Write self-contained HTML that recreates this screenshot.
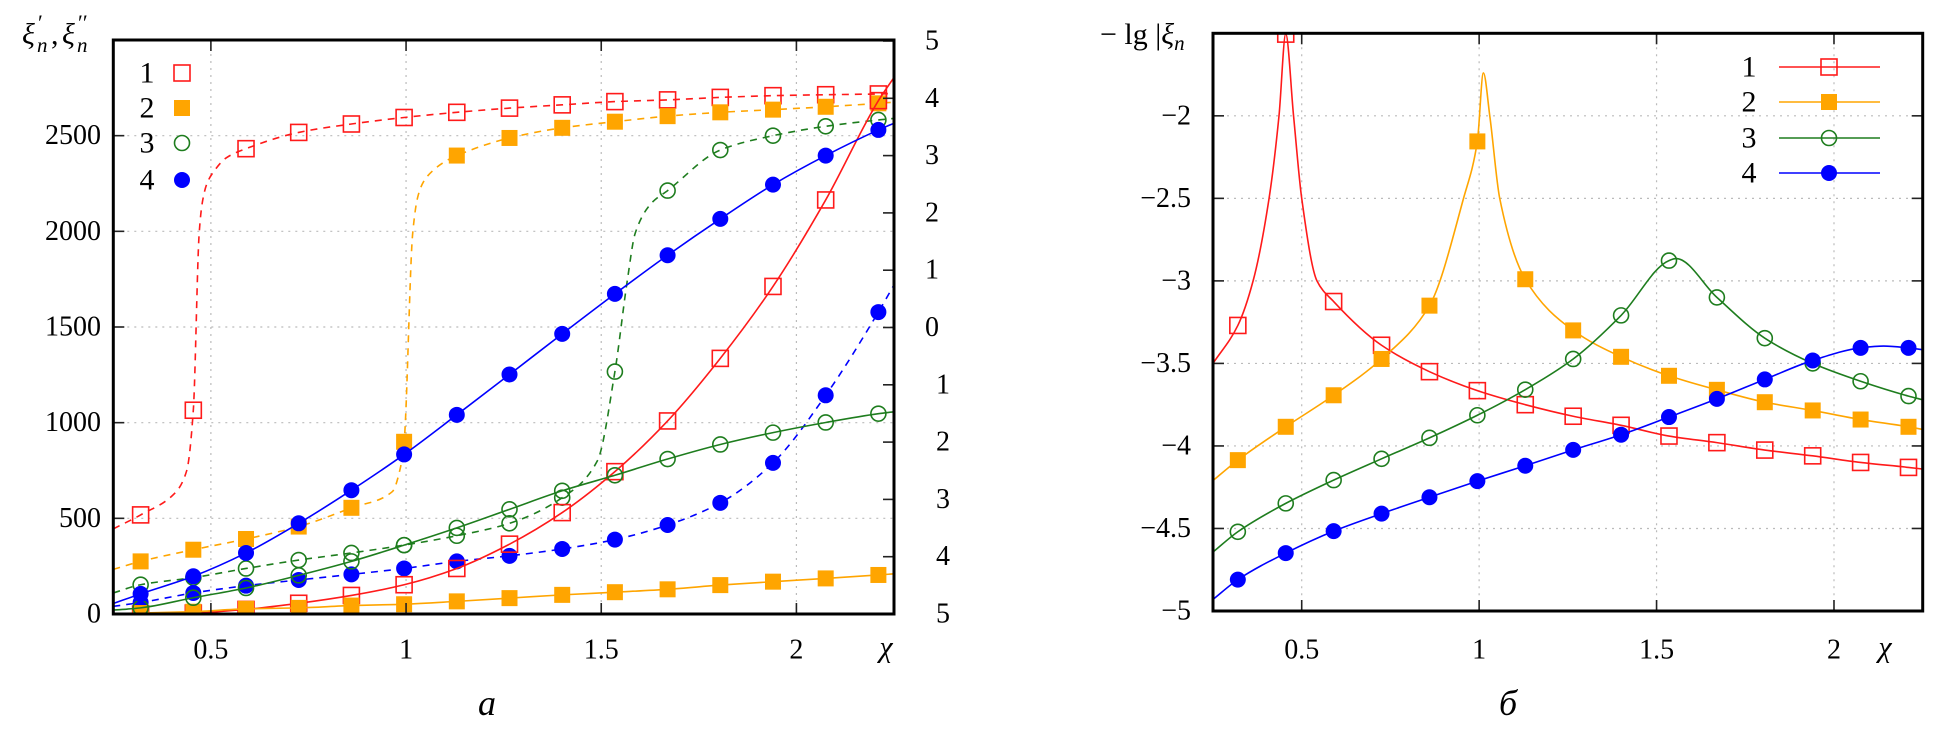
<!DOCTYPE html>
<html><head><meta charset="utf-8">
<style>
html,body{margin:0;padding:0;background:#fff;}
svg{display:block;}
svg text{font-family:"Liberation Serif","DejaVu Serif",serif;}
</style></head>
<body>
<svg id="fig" width="1946" height="730" viewBox="0 0 1946 730" xmlns="http://www.w3.org/2000/svg" font-family="Liberation Serif, serif">
<defs>
<clipPath id="clipA"><rect x="113" y="40" width="781" height="574"/></clipPath>
<clipPath id="clipB"><rect x="1213" y="33" width="710" height="578"/></clipPath>
</defs>
</svg>
<script>
// ---------- shared x positions of markers ----------
const markerX = [0.32,0.455,0.59,0.725,0.86,0.995,1.13,1.265,1.4,1.535,1.67,1.805,1.94,2.075,2.21];

// ---------- panel a data ----------
const aXTicks = [0.5,1,1.5,2];
const aXTickLabels = ["0.5","1","1.5","2"];
const aYTicks = [0,500,1000,1500,2000,2500];
const aYTickLabels = ["0","500","1000","1500","2000","2500"];
const aRightLabels = ["5","4","3","2","1","0","1","2","3","4","5"];

const aRedSolid = [0,5,24,56,97,153,238,365,530,744,1009,1336,1712,2164,2683];
const aRedSolidExtraX = [0.25,2.25];
const aRedSolidExtraY = [0,2804];
const aOrangeSolid = [5,12,27,32,44,51,66,83,100,114,129,151,169,186,204];
const aOrangeSolidExtraX = [0.25,2.25];
const aOrangeSolidExtraY = [2,210];
const aGreenSolid = [32,85,136,202,275,360,450,547,644,725,810,886,948,1001,1047];
const aGreenSolidExtraX = [0.25,2.25];
const aGreenSolidExtraY = [20,1057];
const aBlueSolid = [105,197,319,474,647,834,1041,1252,1464,1673,1875,2065,2244,2396,2530];
const aBlueSolidExtraX = [0.25,2.25];
const aBlueSolidExtraY = [55,2565];

const aRedDashed = [518,1065,2432,2517,2561,2595,2622,2644,2661,2678,2687,2700,2709,2714,2718];
const aRedDashedExtraX = [0.25,0.406,0.438,0.47,0.478,0.49,0.51,0.54,2.25];
const aRedDashedExtraY = [445,628,749,1990,2150,2250,2320,2385,2720];
const aOrangeDashed = [275,336,392,457,555,900,2396,2488,2541,2573,2602,2622,2636,2651,2669];
const aOrangeDashedExtraX = [0.25,0.965,0.985,1.017,1.03,1.045,1.07,1.1,2.25];
const aOrangeDashedExtraY = [233,640,760,1990,2180,2260,2320,2365,2675];
const aGreenDashed = [153,190,238,282,319,360,409,474,608,1267,2213,2425,2500,2549,2582];
const aGreenDashedExtraX = [0.25,1.49,1.567,1.587,1.63,2.25];
const aGreenDashedExtraY = [110,800,1746,1990,2150,2590];
const aBlueDashed = [60,110,148,178,207,238,275,304,340,389,465,581,790,1143,1578];
const aBlueDashedExtraX = [0.25,2.25];
const aBlueDashedExtraY = [40,1720];

// ---------- panel b data ----------
const bXTicks = [0.5,1,1.5,2];
const bXTickLabels = ["0.5","1","1.5","2"];
const bYTicks = [-5,-4.5,-4,-3.5,-3,-2.5,-2];
const bYTickLabels = ["\u22125","\u22124.5","\u22124","\u22123.5","\u22123","\u22122.5","\u22122"];

const bS1 = [-3.27,-1.505,-3.125,-3.39,-3.55,-3.665,-3.75,-3.82,-3.875,-3.94,-3.98,-4.025,-4.06,-4.10,-4.13];
const bS1ExtraX = [0.25,0.363,0.408,0.436,0.477,0.50,0.543,2.25];
const bS1ExtraY = [-3.5,-3.0,-2.5,-2.0,-2.0,-2.5,-3.0,-4.14];
const bS2 = [-4.086,-3.884,-3.693,-3.473,-3.15,-2.155,-2.99,-3.30,-3.46,-3.575,-3.66,-3.735,-3.785,-3.84,-3.884];
const bS2ExtraX = [0.25,0.956,1.012,1.03,1.058,2.25];
const bS2ExtraY = [-4.21,-2.5,-1.74,-2.0,-2.5,-3.90];
const bS3 = [-4.52,-4.348,-4.207,-4.078,-3.951,-3.814,-3.659,-3.473,-3.209,-2.877,-3.10,-3.347,-3.50,-3.608,-3.698];
const bS3ExtraX = [0.25,1.555,2.25];
const bS3ExtraY = [-4.643,-2.865,-3.72];
const bS4 = [-4.81,-4.649,-4.516,-4.41,-4.311,-4.213,-4.12,-4.024,-3.932,-3.825,-3.715,-3.597,-3.482,-3.406,-3.406];
const bS4ExtraX = [0.25,2.14,2.25];
const bS4ExtraY = [-4.93,-3.395,-3.417];

// ---------- helpers ----------
const NS = "http://www.w3.org/2000/svg";
const svg = document.getElementById("fig");
function mk(tag, attrs, parent){
  const e = document.createElementNS(NS, tag);
  for (const k in attrs) e.setAttribute(k, attrs[k]);
  (parent||svg).appendChild(e);
  return e;
}
const RED="#ff1a1a", ORANGE="#ffa500", GREEN="#1e7d1e", BLUE="#0000ff";
const FONT="Liberation Serif, serif";

const A = {l:113.3, r:894, t:40, b:614, x0:0.25, x1:2.25, y0:0, y1:3000};
const B = {l:1213, r:1922.7, t:33.3, b:611, x0:0.25, x1:2.25, y0:-5, y1:-1.5};
function sx(P,v){ return P.l + (v-P.x0)/(P.x1-P.x0)*(P.r-P.l); }
function sy(P,v){ return P.b - (v-P.y0)/(P.y1-P.y0)*(P.b-P.t); }

function monotonePath(pts){
  const n = pts.length;
  if (n<2) return "";
  const dx=[], m=[];
  for (let i=0;i<n-1;i++){ dx.push(pts[i+1][0]-pts[i][0]); m.push((pts[i+1][1]-pts[i][1])/(dx[i]||1e-9)); }
  const t=[m[0]];
  for (let i=1;i<n-1;i++){
    if (m[i-1]*m[i] <= 0) t.push(0);
    else { const w1=2*dx[i]+dx[i-1], w2=dx[i]+2*dx[i-1]; t.push((w1+w2)/(w1/m[i-1]+w2/m[i])); }
  }
  t.push(m[n-2]);
  let d = "M"+pts[0][0].toFixed(2)+","+pts[0][1].toFixed(2);
  for (let i=0;i<n-1;i++){
    const h=dx[i]/3;
    d += " C"+(pts[i][0]+h).toFixed(2)+","+(pts[i][1]+t[i]*h).toFixed(2)+" "+
         (pts[i+1][0]-h).toFixed(2)+","+(pts[i+1][1]-t[i+1]*h).toFixed(2)+" "+
         pts[i+1][0].toFixed(2)+","+pts[i+1][1].toFixed(2);
  }
  return d;
}
function buildPts(P, ys, ex, ey){
  const arr=[];
  for (let i=0;i<markerX.length;i++) arr.push([markerX[i], ys[i]]);
  for (let i=0;i<ex.length;i++) arr.push([ex[i], ey[i]]);
  arr.sort((a,b)=>a[0]-b[0]);
  return arr.map(p=>[sx(P,p[0]), sy(P,p[1])]);
}
function drawMarker(g, kind, x, y, color){
  let e;
  if (kind==="sqo") e = mk("rect",{x:x-8,y:y-8,width:16,height:16,fill:"none",stroke:color,"stroke-width":1.6},g);
  else if (kind==="sqf") e = mk("rect",{x:x-8,y:y-8,width:16,height:16,fill:color,stroke:"none"},g);
  else if (kind==="cio") e = mk("circle",{cx:x,cy:y,r:7.5,fill:"none",stroke:color,"stroke-width":1.6},g);
  else e = mk("circle",{cx:x,cy:y,r:8,fill:color,stroke:"none"},g);
  return e;
}
function drawSeries(P, clip, name, ys, ex, ey, color, dashed, kind){
  const g = mk("g",{"clip-path":"url(#"+clip+")"});
  
  
  const p = mk("path",{d:monotonePath(buildPts(P,ys,ex,ey)),fill:"none",stroke:color,"stroke-width":1.6,"stroke-dasharray":dashed?"7,6":"none"},g);
  
  
  for (let i=0;i<markerX.length;i++){
    const m = drawMarker(g, kind, sx(P,markerX[i]), sy(P,ys[i]), color);
    
    
  }
}
function text(str, x, y, size, anchor, name, italic){
  const t = mk("text",{x:x,y:y,"font-size":size,"font-family":FONT,"text-anchor":anchor||"middle","dominant-baseline":"central",fill:"#000"});
  if (italic) t.setAttribute("font-style","italic");
  t.textContent = str;
  
  
  return t;
}
function grid(P, name, xt, yt){
  const g = mk("g",{});
  
  
  xt.forEach(v=>{ const X=sx(P,v); mk("line",{x1:X,y1:P.t,x2:X,y2:P.b,stroke:"#bbb","stroke-width":1.2,"stroke-dasharray":"2,5"},g); });
  yt.forEach(v=>{ const Y=sy(P,v); if (Y>P.t+2 && Y<P.b-2) mk("line",{x1:P.l,y1:Y,x2:P.r,y2:Y,stroke:"#bbb","stroke-width":1.2,"stroke-dasharray":"2,5"},g); });
}
function frame(P, name, xt, yt, rightYs){
  const g = mk("g",{});
  
  
  xt.forEach(v=>{ const X=sx(P,v);
    mk("line",{x1:X,y1:P.b,x2:X,y2:P.b-11,stroke:"#222","stroke-width":1.6},g);
    mk("line",{x1:X,y1:P.t,x2:X,y2:P.t+11,stroke:"#222","stroke-width":1.6},g); });
  yt.forEach(v=>{ const Y=sy(P,v);
    mk("line",{x1:P.l,y1:Y,x2:P.l+11,y2:Y,stroke:"#222","stroke-width":1.6},g); });
  rightYs.forEach(Y=>{ mk("line",{x1:P.r,y1:Y,x2:P.r-11,y2:Y,stroke:"#222","stroke-width":1.6},g); });
  mk("rect",{x:P.l,y:P.t,width:P.r-P.l,height:P.b-P.t,fill:"none",stroke:"#000","stroke-width":3},g);
}

// ---------- panel a ----------
grid(A,"grid-a",aXTicks,aYTicks);
const aRightYs = aRightLabels.map((s,i)=>A.t+1+i*(A.b-A.t-1)/10);
drawSeries(A,"clipA","series-1-imag",aRedDashed,aRedDashedExtraX,aRedDashedExtraY,RED,true,"sqo");
drawSeries(A,"clipA","series-2-imag",aOrangeDashed,aOrangeDashedExtraX,aOrangeDashedExtraY,ORANGE,true,"sqf");
drawSeries(A,"clipA","series-3-imag",aGreenDashed,aGreenDashedExtraX,aGreenDashedExtraY,GREEN,true,"cio");
drawSeries(A,"clipA","series-4-imag",aBlueDashed,aBlueDashedExtraX,aBlueDashedExtraY,BLUE,true,"cif");
drawSeries(A,"clipA","series-1-real",aRedSolid,aRedSolidExtraX,aRedSolidExtraY,RED,false,"sqo");
drawSeries(A,"clipA","series-2-real",aOrangeSolid,aOrangeSolidExtraX,aOrangeSolidExtraY,ORANGE,false,"sqf");
drawSeries(A,"clipA","series-3-real",aGreenSolid,aGreenSolidExtraX,aGreenSolidExtraY,GREEN,false,"cio");
drawSeries(A,"clipA","series-4-real",aBlueSolid,aBlueSolidExtraX,aBlueSolidExtraY,BLUE,false,"cif");
frame(A,"frame-a",aXTicks,aYTicks,aRightYs);
aXTicks.forEach((v,i)=>text(aXTickLabels[i], sx(A,v), 650, 28, "middle", "x-tick-label-a"));
aYTicks.forEach((v,i)=>text(aYTickLabels[i], 101, sy(A,v), 28, "end", "y-tick-label-a"));
aRightLabels.forEach((s,i)=>text(s, i<=5?925:936, aRightYs[i], 28, "start", "right-tick-label-a"));
text("\u03C7", 886, 647, 30, "middle", "x-axis-title-a", true);
text("a", 487, 703, 36, "middle", "panel-label-a", true);
(function(){
  const g = mk("g",{"font-family":FONT});
  
  
  const parts = [["\u03BE",22,44,30,"italic"],["\u2032",38,30,22,"normal"],["n",37,52,21,"italic"],
                 [",",51,44,30,"normal"],["\u03BE",62,44,30,"italic"],["\u2032\u2032",78,30,22,"normal"],["n",77,52,21,"italic"]];
  parts.forEach(p=>{ const t=mk("text",{x:p[1],y:p[2],"font-size":p[3],"font-style":p[4],"font-family":FONT,fill:"#000"},g); t.textContent=p[0]; });
})();
const legKinds = ["sqo","sqf","cio","cif"], legColors=[RED,ORANGE,GREEN,BLUE], legLabels=["1","2","3","4"];
const legAY = [73,108,143,180];
legLabels.forEach((s,i)=>{
  const g = mk("g",{});
  
  
  const t = mk("text",{x:147,y:legAY[i],"font-size":30,"font-family":FONT,"text-anchor":"middle","dominant-baseline":"central"},g);
  t.textContent = s;
  drawMarker(g, legKinds[i], 182, legAY[i], legColors[i]);
});

// ---------- panel b ----------
grid(B,"grid-b",bXTicks,bYTicks);
drawSeries(B,"clipB","series-1",bS1,bS1ExtraX,bS1ExtraY,RED,false,"sqo");
drawSeries(B,"clipB","series-2",bS2,bS2ExtraX,bS2ExtraY,ORANGE,false,"sqf");
drawSeries(B,"clipB","series-3",bS3,bS3ExtraX,bS3ExtraY,GREEN,false,"cio");
drawSeries(B,"clipB","series-4",bS4,bS4ExtraX,bS4ExtraY,BLUE,false,"cif");
frame(B,"frame-b",bXTicks,bYTicks,bYTicks.map(v=>sy(B,v)));
bXTicks.forEach((v,i)=>text(bXTickLabels[i], sx(B,v), 650, 28, "middle", "x-tick-label-b"));
bYTicks.forEach((v,i)=>text(bYTickLabels[i], 1191, sy(B,v), 28, "end", "y-tick-label-b"));
text("\u03C7", 1885, 647, 30, "middle", "x-axis-title-b", true);
text("\u0431", 1508, 703, 36, "middle", "panel-label-b", true);
(function(){
  const t = mk("text",{x:1100,y:44,"font-size":30,"font-family":FONT,fill:"#000"});
  
  
  t.innerHTML = '\u2212 lg |<tspan font-style="italic">\u03BE</tspan><tspan font-style="italic" baseline-shift="-30%" font-size="21">n</tspan>';
})();
const legBY = [67,102,138,173];
legLabels.forEach((s,i)=>{
  const g = mk("g",{});
  
  
  const t = mk("text",{x:1749,y:legBY[i],"font-size":30,"font-family":FONT,"text-anchor":"middle","dominant-baseline":"central"},g);
  t.textContent = s;
  mk("line",{x1:1779,y1:legBY[i],x2:1880,y2:legBY[i],stroke:legColors[i],"stroke-width":1.6},g);
  drawMarker(g, legKinds[i], 1829, legBY[i], legColors[i]);
});
</script>
</body></html>
